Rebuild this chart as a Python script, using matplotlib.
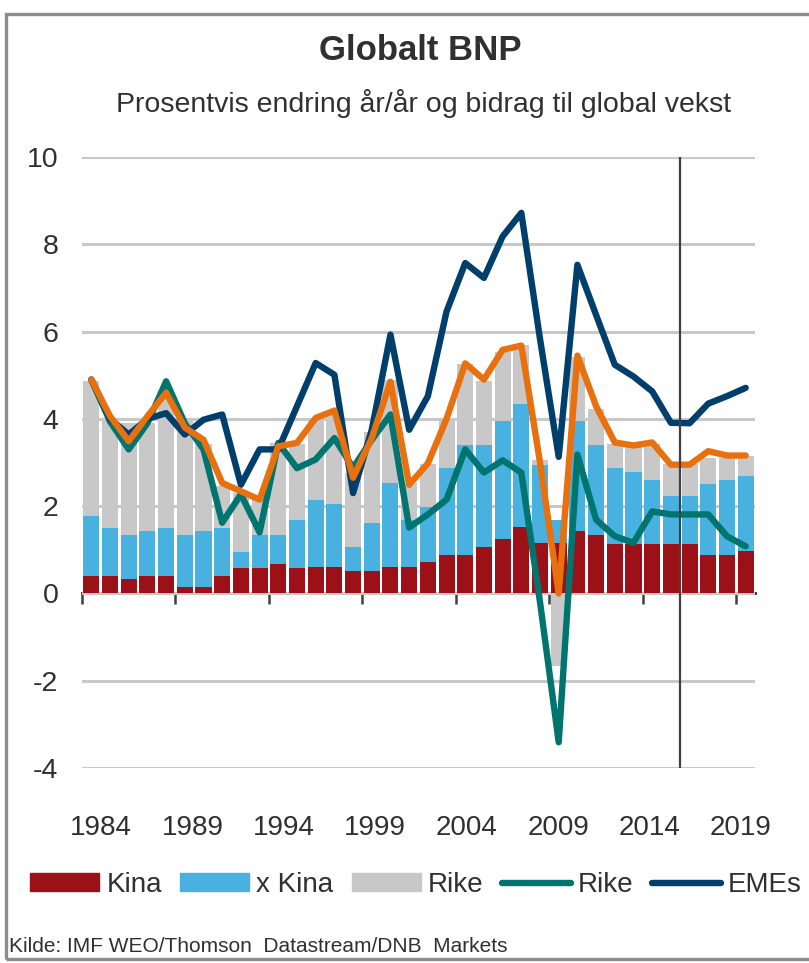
import numpy as np
import matplotlib
matplotlib.use("Agg")
import matplotlib.pyplot as plt
from matplotlib import font_manager
from matplotlib.patches import Patch, Rectangle
from matplotlib.lines import Line2D

# --- data ---
years = list(range(1984, 2020))

# contributions to global growth, pct points
kina = [0.41, 0.41, 0.32, 0.41, 0.41, 0.15, 0.15, 0.41, 0.59, 0.59, 0.68, 0.59,
        0.60, 0.60, 0.51, 0.51, 0.60, 0.60, 0.71, 0.88, 0.88, 1.06, 1.24, 1.52,
        1.16, 1.16, 1.43, 1.33, 1.14, 1.14, 1.14, 1.14, 1.14, 0.88, 0.88, 0.97]
x_kina = [1.37, 1.10, 1.01, 1.01, 1.10, 1.18, 1.27, 1.10, 0.37, 0.74, 0.65, 1.10,
          1.55, 1.46, 0.55, 1.11, 1.92, 1.09, 1.27, 1.99, 2.53, 2.35, 2.72, 2.81,
          1.79, 0.53, 2.53, 2.08, 1.74, 1.64, 1.47, 1.10, 1.10, 1.63, 1.73, 1.72]
rike_bidrag = [3.09, 2.47, 2.57, 2.48, 2.99, 2.62, 2.01, 0.95, 1.34, 0.87, 2.12, 1.74,
               1.83, 2.08, 1.70, 2.07, 2.38, 0.84, 0.99, 1.11, 1.85, 1.46, 1.58, 1.37,
               0.10, -1.66, 1.46, 0.82, 0.55, 0.65, 0.82, 0.73, 0.73, 0.59, 0.49, 0.45]

# growth rates, pct y/y
global_vekst = [4.90, 4.06, 3.49, 4.06, 4.60, 3.80, 3.52, 2.53, 2.34, 2.15, 3.37, 3.45,
                4.02, 4.19, 2.65, 3.56, 4.85, 2.49, 2.98, 4.00, 5.27, 4.90, 5.58, 5.68,
                3.00, 0.00, 5.45, 4.29, 3.46, 3.39, 3.46, 2.95, 2.95, 3.26, 3.16, 3.16]
rike_vekst = [4.90, 3.94, 3.30, 3.90, 4.86, 3.90, 3.30, 1.62, 2.27, 1.40, 3.45, 2.87,
              3.07, 3.56, 2.88, 3.52, 4.10, 1.51, 1.81, 2.15, 3.30, 2.77, 3.05, 2.77,
              -0.20, -3.41, 3.18, 1.69, 1.31, 1.16, 1.88, 1.81, 1.81, 1.81, 1.31, 1.08]
eme_vekst = [4.90, 4.00, 3.64, 4.00, 4.13, 3.64, 3.98, 4.10, 2.49, 3.30, 3.30, 4.29,
             5.28, 5.01, 2.30, 3.75, 5.93, 3.75, 4.52, 6.46, 7.57, 7.23, 8.18, 8.72,
             5.83, 3.13, 7.53, 6.38, 5.24, 4.97, 4.63, 3.91, 3.90, 4.35, 4.52, 4.71]

tick_years = [1984, 1989, 1994, 1999, 2004, 2009, 2014, 2019]
legend_labels = ["Kina", "x Kina", "Rike", "Rike", "EMEs"]
prognose_start = 2015.5

# colours
RED = "#9C1118"
BLUE = "#49B1E0"
GREY = "#C8C8C8"
TEAL = "#00746F"
NAVY = "#003F6B"
ORANGE = "#E8700E"
TXT = "#303030"

# the original uses a squeezed Arial; a narrow face if there is one, else smaller text
names = {f.name for f in font_manager.fontManager.ttflist}
narrow = "Liberation Sans Narrow" if "Liberation Sans Narrow" in names else "Liberation Sans"
plt.rcParams["font.family"] = [narrow, "DejaVu Sans"]
plt.rcParams["text.color"] = TXT

W, H = 809, 963
fig = plt.figure(figsize=(W / 100, H / 100), dpi=100)
ax = fig.add_axes([82 / W, 1 - 768 / H, (755 - 82) / W, (768 - 157) / H])

yrs = np.array(years)
k = np.array(kina)
xk = np.array(x_kina)
rb = np.array(rike_bidrag)
bw = 0.86

ax.bar(yrs, k, width=bw, color=RED, zorder=2)
ax.bar(yrs, xk, width=bw, bottom=k, color=BLUE, zorder=2)
ax.bar(yrs, rb, width=bw, bottom=np.where(rb >= 0, k + xk, 0), color=GREY, zorder=2)

lw = 4.6
ax.plot(yrs, rike_vekst, color=TEAL, lw=lw, solid_capstyle="round", solid_joinstyle="round", zorder=4)
ax.plot(yrs, eme_vekst, color=NAVY, lw=lw, solid_capstyle="round", solid_joinstyle="round", zorder=5)
ax.plot(yrs, global_vekst, color=ORANGE, lw=lw, solid_capstyle="round", solid_joinstyle="round", zorder=6)

ax.axvline(prognose_start, color="#404040", lw=1.6, zorder=7)

ax.set_xlim(1983.5, 2019.5)
ax.set_ylim(-4, 10)
ax.set_yticks(range(-4, 11, 2))
ax.set_yticklabels([str(v) for v in range(-4, 11, 2)])
ax.yaxis.grid(True, color=GREY, lw=2.2)
ax.set_axisbelow(True)
for s in ax.spines.values():
    s.set_visible(False)

# year labels sit a bit off the bar centres, as in the original
lbl_pos = [y + 0.53 - 0.0225 * (y - 1984) for y in tick_years]
ax.set_xticks(lbl_pos)
ax.set_xticklabels([str(y) for y in tick_years])
ax.tick_params(axis="x", length=0, pad=34, labelsize=20, colors=TXT)
ax.tick_params(axis="y", length=0, pad=17, labelsize=20.5, colors=TXT)

# zero line with tick marks between the 5-year groups
zero = ax.secondary_xaxis(4 / 14)
zero.spines["bottom"].set_color("#404040")
zero.spines["bottom"].set_linewidth(2.2)
zero.set_xticks([y - 0.5 for y in tick_years])
zero.tick_params(axis="x", direction="out", length=8, width=1.8, color="#404040", labelbottom=False)

fig.text(420 / W, 1 - 50 / H, "Globalt BNP", ha="center", va="center",
         fontsize=25, fontweight="bold")
fig.text(424 / W, 1 - 103 / H, "Prosentvis endring år/år og bidrag til global vekst",
         ha="center", va="center", fontsize=20.5)

handles = [Patch(color=RED), Patch(color=BLUE), Patch(color=GREY),
           Line2D([], [], color=TEAL, lw=lw, solid_capstyle="round"),
           Line2D([], [], color=NAVY, lw=lw, solid_capstyle="round")]
fig.legend(handles, legend_labels, loc="center", bbox_to_anchor=(416 / W, 1 - 885 / H),
           ncol=5, frameon=False, fontsize=20, handlelength=2.5, handleheight=0.6,
           handletextpad=0.25, columnspacing=0.65, borderaxespad=0, borderpad=0)

fig.text(9 / W, 1 - 946 / H, "Kilde: IMF WEO/Thomson  Datastream/DNB  Markets",
         ha="left", va="center", fontsize=15)

# grey frame round the whole chart (right edge falls outside)
fig.patches.append(Rectangle((6 / W, 1 - 959 / H), 1.2, (959 - 14) / H,
                             transform=fig.transFigure, fill=False,
                             edgecolor="#8C8C8C", lw=2.4, clip_on=False))

fig.savefig("out.png", dpi=100)
